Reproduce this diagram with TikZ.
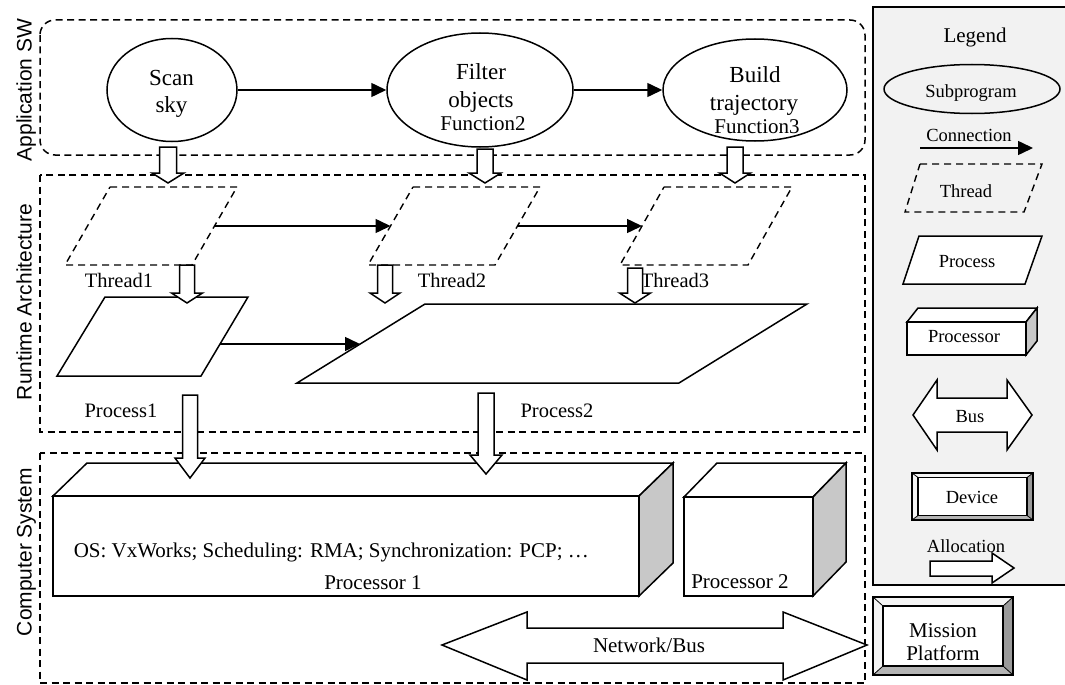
\documentclass[tikz,border=0pt]{standalone}
\usepackage{fontspec}
\setmainfont{Liberation Serif}
\newfontfamily\sidefont{Liberation Sans}
\usetikzlibrary{arrows.meta,shapes.geometric}

\definecolor{legendbg}{HTML}{F2F2F2}
\definecolor{sidegray}{HTML}{C8C8C8}
\definecolor{bevlight}{HTML}{F4F4F4}
\definecolor{bevdark}{HTML}{9A9A9A}
\definecolor{bevmid}{HTML}{B4B4B4}

% hollow allocation arrow pointing down: cx, ytop, ybottom, head length, shaft width, head width
\newcommand\allocdown[6]{%
  \draw[alloc] (#1-#5/2,#2) -- (#1+#5/2,#2) -- (#1+#5/2,#3-#4) -- (#1+#6/2,#3-#4)
    -- (#1,#3) -- (#1-#6/2,#3-#4) -- (#1-#5/2,#3-#4) -- cycle;}

% box with a top face and a shaded right face: front x1,y1,x2,y2 and depth dx,dy
\newcommand\cuboid[6]{%
  \draw[boxline,fill=white] (#1,#2) -- (#1+#5,#2-#6) -- (#3+#5,#2-#6) -- (#3,#2) -- cycle;
  \draw[boxline,fill=sidegray] (#3,#2) -- (#3+#5,#2-#6) -- (#3+#5,#4-#6) -- (#3,#4) -- cycle;
  \draw[boxline,fill=white] (#1,#2) rectangle (#3,#4);}

% bevelled frame: outer x1,y1,x2,y2 and inset dx,dy
\newcommand\bevelbox[6]{%
  \fill[bevlight] (#1,#2) -- (#3,#2) -- (#3-#5,#2+#6) -- (#1+#5,#2+#6) -- cycle;
  \fill[bevlight] (#1,#2) -- (#1+#5,#2+#6) -- (#1+#5,#4-#6) -- (#1,#4) -- cycle;
  \fill[bevdark] (#3,#2) -- (#3,#4) -- (#3-#5,#4-#6) -- (#3-#5,#2+#6) -- cycle;
  \fill[bevmid] (#1,#4) -- (#1+#5,#4-#6) -- (#3-#5,#4-#6) -- (#3,#4) -- cycle;
  \fill[white] (#1+#5,#2+#6) rectangle (#3-#5,#4-#6);
  \draw[boxline] (#1,#2) rectangle (#3,#4);
  \draw[boxline] (#1+#5,#2+#6) rectangle (#3-#5,#4-#6);
  \draw[line width=0.8pt] (#1,#2) -- (#1+#5,#2+#6) (#3,#2) -- (#3-#5,#2+#6)
              (#1,#4) -- (#1+#5,#4-#6) (#3,#4) -- (#3-#5,#4-#6);}

\begin{document}
\begin{tikzpicture}[x=1pt,y=-1pt,
  line width=1.5pt,
  boxline/.style={line width=1.5pt,line join=miter},
  layer/.style={dash pattern=on 7pt off 4.5pt,line width=1.5pt},
  thr/.style={dash pattern=on 7pt off 5pt,line width=1.4pt},
  subprog/.style={draw,ellipse,line width=1.5pt,inner sep=0pt},
  conn/.style={line width=1.5pt,-{Triangle[length=15pt,width=14pt]}},
  alloc/.style={line width=1.5pt,fill=white,line join=miter},
  big/.style={font=\fontsize{23}{27}\selectfont,inner sep=0pt,anchor=base},
  mid/.style={font=\fontsize{21}{25}\selectfont,inner sep=0pt,anchor=base},
  lbl/.style={font=\fontsize{20.5}{24}\selectfont,inner sep=0pt,anchor=base},
  leg/.style={font=\fontsize{18.5}{22}\selectfont,inner sep=0pt,anchor=base},
  side/.style={font=\sidefont\fontsize{21}{25}\selectfont,inner sep=0pt,anchor=base,rotate=90}]
\useasboundingbox (0,0) rectangle (1065,685);

% ---------- layer frames ----------
\draw[layer,rounded corners=15pt] (40,20) rectangle (865,155);
\draw[layer] (40,175) rectangle (865,432);
\draw[layer] (40,453) rectangle (865,683);
\node[side] (lapp) at (31.5,90) {Application SW};
\node[side] (lrun) at (31.5,302) {Runtime Architecture};
\node[side] (lcomp) at (31.5,552) {Computer System};

% ---------- application software ----------
\node[subprog,minimum width=130pt,minimum height=103pt] (scan) at (172,90) {};
\node[subprog,minimum width=186pt,minimum height=114pt] (filter) at (480,90) {};
\node[subprog,minimum width=184pt,minimum height=102pt] (build) at (755,90) {};
\node[big] (scan1) at (171.5,85) {Scan};
\node[big] (scan2) at (171.5,112) {sky};
\node[big] (filt1) at (481,79) {Filter};
\node[big] (filt2) at (481,107) {objects};
\node[mid] (filt3) at (483,130) {Function2};
\node[big] (bld1) at (755,82) {Build};
\node[big] (bld2) at (754,110) {trajectory};
\node[mid] (bld3) at (757,133) {Function3};
\draw[conn] (scan) -- (filter);
\draw[conn] (filter) -- (build);

% ---------- threads ----------
\draw[thr] (110,187) -- (237,187) -- (192,265) -- (65,265) -- cycle;
\draw[thr] (413,187) -- (540,187) -- (495,265) -- (368,265) -- cycle;
\draw[thr] (664,187) -- (792,187) -- (748,265) -- (620,265) -- cycle;
\coordinate (t1e) at (214.5,226);
\coordinate (t2w) at (390.5,226);
\coordinate (t2e) at (517.5,226);
\coordinate (t3w) at (642,226);
\draw[conn] (t1e) -- (t2w);
\draw[conn] (t2e) -- (t3w);
\node[lbl] (th1) at (119,287) {Thread1};
\node[lbl] (th2) at (452,287) {Thread2};
\node[lbl] (th3) at (675,287) {Thread3};

% ---------- processes ----------
\draw[boxline,fill=white] (105,297) -- (248,297) -- (201,376) -- (57,376) -- cycle;
\draw[boxline,fill=white] (425,304) -- (807,304) -- (679,383) -- (297,383) -- cycle;
\coordinate (p1e) at (220,344);
\coordinate (p2w) at (360,344);
\draw[conn] (p1e) -- (p2w);
\node[lbl] (pr1) at (121,417) {Process1};
\node[lbl] (pr2) at (557,417) {Process2};

% ---------- processors ----------
\cuboid{53}{496}{639}{596}{34}{33}
\cuboid{684}{497}{813}{596}{33}{34}
\node[mid,anchor=base west] (os) at (73,557) {OS: VxWorks; Scheduling: RMA; Synchronization: PCP; …};
\node[mid] (cpu1) at (373,589) {Processor 1};
\node[mid] (cpu2) at (740,588) {Processor 2};

% network bus
\draw[alloc] (442,645) -- (527,612) -- (527,628) -- (783,628) -- (783,612) -- (867,645)
  -- (783,680) -- (783,663) -- (527,663) -- (527,680) -- cycle;
\node[mid] (net) at (649,652) {Network/Bus};

% mission platform
\bevelbox{873}{597}{1013}{675}{10}{9}
\node[mid] (mp1) at (943,637) {Mission};
\node[mid] (mp2) at (943,660) {Platform};

% ---------- allocation arrows ----------
\allocdown{168}{147}{183}{10}{17}{32}
\allocdown{485}{149}{183}{10}{16}{32}
\allocdown{735}{147}{183}{10}{16}{31}
\allocdown{187}{265}{303}{10}{15}{31}
\allocdown{385}{265}{303}{10}{15}{30}
\allocdown{635}{268}{303}{10}{15}{31}
\allocdown{190}{395}{478}{20}{15}{30}
\allocdown{486}{393}{474}{19}{16}{32}

% ---------- legend ----------
\draw[line width=2.5pt,fill=legendbg] (873,7) rectangle (1110,585);
\node[mid] (legt) at (975,43) {Legend};
\node[subprog,minimum width=176pt,minimum height=49pt] (lsub) at (972,89) {};
\node[leg] (lsubt) at (971,97) {Subprogram};
\node[leg] (lcont) at (969,141) {Connection};
\coordinate (lca) at (920,148);
\coordinate (lcb) at (1033,148);
\draw[conn] (lca) -- (lcb);
\draw[thr] (920,164) -- (1042,164) -- (1024,212) -- (905,212) -- cycle;
\node[leg] (lthr) at (966,197) {Thread};
\draw[boxline,fill=white] (919,236) -- (1042,236) -- (1025,284) -- (903,284) -- cycle;
\node[leg] (lproc) at (967,267) {Process};
\cuboid{907}{322}{1026}{355}{11}{14}
\node[leg] (lcpu) at (964,342) {Processor};
\draw[alloc] (913,415) -- (937,380) -- (937,398) -- (1007,398) -- (1007,380) -- (1032,415)
  -- (1007,450) -- (1007,432) -- (937,432) -- (937,450) -- cycle;
\node[leg] (lbus) at (970,422) {Bus};
\bevelbox{912}{473}{1033}{520}{6}{4.5}
\node[leg] (ldev) at (972,503) {Device};
\node[leg] (lall) at (966,552) {Allocation};
\draw[alloc] (930,561) -- (992,561) -- (992,553) -- (1014,568) -- (992,583) -- (992,576) -- (930,576) -- cycle;
\end{tikzpicture}
\end{document}
